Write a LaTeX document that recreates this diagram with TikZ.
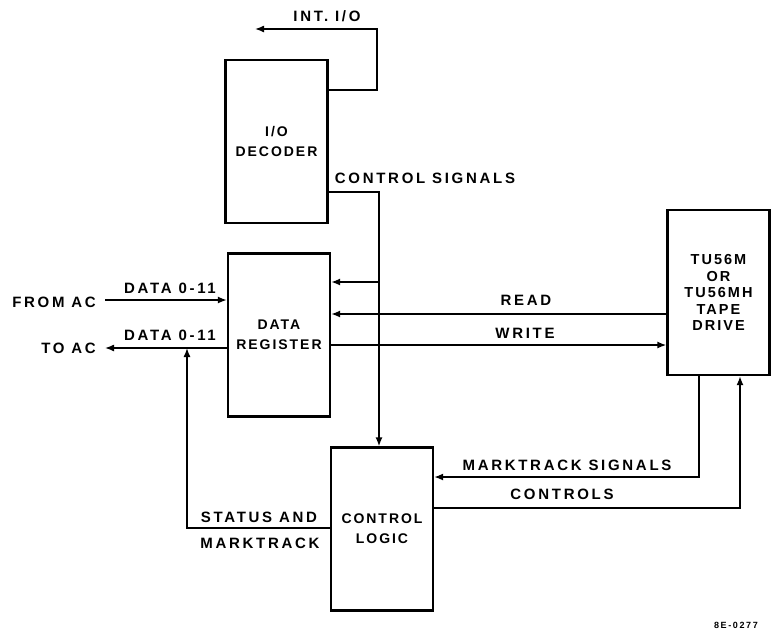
\documentclass[tikz,border=0pt]{standalone}
\usepackage{fontspec}
\setmainfont{Liberation Sans}[LetterSpace=18]
\newfontfamily\boxfont{Liberation Sans}[LetterSpace=14]
\usetikzlibrary{arrows.meta,positioning}
\tikzset{
  >=Latex,
  blockbox/.style={draw=black,line width=2.4pt,fill=white,align=center,
    minimum width=102pt,minimum height=163pt,inner sep=0pt,
    font=\boxfont\fontsize{14}{20}\selectfont\bfseries},
  tapebox/.style={blockbox,font=\boxfont\fontsize{14.5}{16.5}\selectfont\bfseries},
  sig/.style={font=\fontsize{15}{20}\selectfont\bfseries,inner sep=0pt,align=center},
  link/.style={line width=1.4pt,draw=black},
  flow/.style={link,-{Latex[length=9pt,width=7pt]}}
}
\begin{document}
\begin{tikzpicture}[x=1pt,y=-1pt]
  \useasboundingbox (0,0) rectangle (772,633);

  \node[blockbox] (decoder) at (276.5,141.5) {I/O\\DECODER};
  \node[blockbox] (datareg) at (279,335) {DATA\\REGISTER};
  \node[blockbox] (ctrl) at (382,529) {CONTROL\\LOGIC};
  \node[tapebox,minimum height=165pt] (tape) at (718.5,292.5) {TU56M\\OR\\TU56MH\\TAPE\\DRIVE};

  \coordinate (intio) at (255,29);
  \coordinate (fromac) at (105,300);
  \coordinate (toac) at (105,348);

  \node[sig] (intiotxt) at (327,16) {INT. I/O};
  \node[sig] (ctrlsigtxt) at (425,178) {CONTROL SIGNALS};
  \node[sig] (datain) at (170,288) {DATA 0-11};
  \node[sig] (dataout) at (170,335) {DATA 0-11};
  \node[sig,anchor=east] (fromactxt) at (96,302) {FROM AC};
  \node[sig,anchor=east] (toactxt) at (96,348) {TO AC};
  \node[sig] (readtxt) at (526,300) {READ};
  \node[sig] (writetxt) at (525,333) {WRITE};
  \node[sig] (marktxt) at (567,465) {MARKTRACK\ SIGNALS};
  \node[sig] (controlstxt) at (562,494) {CONTROLS};
  \node[sig] (statustxt) at (259,517) {STATUS\ AND};
  \node[sig] (marktrktxt) at (260,543) {MARKTRACK};
  \node[font=\fontsize{9}{10}\selectfont\bfseries,inner sep=0pt] (figno) at (736,625) {8E-0277};

  \draw[flow] (decoder.east |- 0,90) -- (377,90) -- (377,29) -- (intio);
  \draw[flow] (decoder.east |- 0,192) -- (379,192) -- (379,0 |- ctrl.north);
  \draw[flow] (379,282) -- (datareg.east |- 0,282);
  \draw[flow] (tape.west |- 0,314) -- (datareg.east |- 0,314);
  \draw[flow] (datareg.east |- 0,345) -- (tape.west |- 0,345);
  \draw[flow] (fromac) -- (datareg.west |- fromac);
  \draw[flow] (datareg.west |- toac) -- (toac);
  \draw[flow] (ctrl.west |- 0,528) -- (187,528) -- (187,348);
  \draw[flow] (tape.south -| 699,0) -- (699,477) -- (ctrl.east |- 0,477);
  \draw[flow] (ctrl.east |- 0,508) -- (740,508) -- (tape.south -| 740,0);
\end{tikzpicture}
\end{document}
